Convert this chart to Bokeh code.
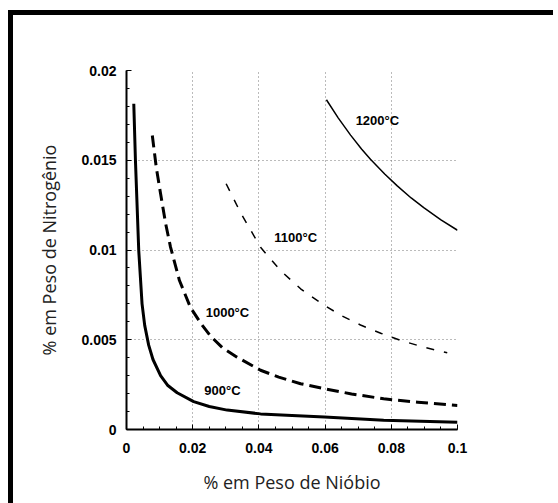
from bokeh.plotting import figure
from bokeh.models import Range1d, FixedTicker, ColumnDataSource
from bokeh.core.properties import value
from bokeh.embed import file_html
from bokeh.resources import INLINE

# Data (x = % Nb, y = % N)
nb_900 = [0.0022, 0.0027, 0.0037, 0.0047, 0.0055, 0.0067, 0.0080, 0.0103, 0.0125, 0.0153, 0.0203, 0.0250, 0.0304, 0.0405, 0.0500, 0.0598, 0.0777, 0.1]
n_900 = [0.01815, 0.0150, 0.00997, 0.00700, 0.0058, 0.0047, 0.0039, 0.00300, 0.00245, 0.00205, 0.00155, 0.00128, 0.00108, 0.00087, 0.00078, 0.00070, 0.00052, 0.0004]

nb_1000 = [0.0078, 0.0090, 0.0103, 0.0118, 0.0133, 0.0160, 0.0193, 0.0225, 0.0254, 0.0290, 0.0334, 0.0405, 0.0460, 0.0526, 0.0598, 0.0680, 0.0777, 0.0880, 0.1]
n_1000 = [0.01638, 0.01460, 0.01313, 0.01150, 0.01016, 0.00830, 0.00681, 0.00590, 0.00520, 0.00455, 0.00403, 0.00330, 0.00292, 0.00255, 0.00227, 0.00198, 0.00171, 0.00152, 0.00134]

nb_1100 = [0.0301, 0.0344, 0.0405, 0.0465, 0.0526, 0.0598, 0.0650, 0.0707, 0.0770, 0.0828, 0.0900, 0.0969]
n_1100 = [0.01369, 0.0121, 0.01015, 0.00886, 0.00784, 0.00691, 0.00634, 0.00582, 0.00535, 0.00496, 0.00458, 0.00427]

nb_1200 = [0.0604, 0.0640, 0.0677, 0.0710, 0.0737, 0.0780, 0.0818, 0.0860, 0.0898, 0.0950, 0.1]
n_1200 = [0.01837, 0.01735, 0.01640, 0.01563, 0.01506, 0.01423, 0.01357, 0.01290, 0.01236, 0.01168, 0.0111]

label_text = ["1200\u00b0C", "1100\u00b0C", "1000\u00b0C", "900\u00b0C"]
label_x = [0.0758, 0.0511, 0.0305, 0.0290]
label_y = [0.01721, 0.0107, 0.00652, 0.00217]

x_ticks = [0, 0.02, 0.04, 0.06, 0.08, 0.1]
x_tick_labels = ["0", "0.02", "0.04", "0.06", "0.08", "0.1"]
y_ticks = [0, 0.005, 0.01, 0.015, 0.02]
y_tick_labels = ["0", "0.005", "0.01", "0.015", "0.02"]
x_minor = [i * 0.005 for i in range(21)]
y_minor = [i * 0.001 for i in range(21)]

W, H = 540, 488
p = figure(width=W, height=H, output_backend="svg", toolbar_location=None,
           x_range=Range1d(0, 0.1), y_range=Range1d(0, 0.02),
           min_border_left=113, min_border_right=96, min_border_top=55, min_border_bottom=74)
# thick black frame on the top and left sides (drawn as shadows, no layout change)
p.styles = {"box-shadow": "-5px -5px 0 0 black, 0 -5px 0 0 black, -5px 0 0 0 black",
            "margin-left": "13px", "margin-top": "15px"}
p.outline_line_color = None
p.background_fill_color = "white"
p.border_fill_color = "white"

p.xaxis.ticker = FixedTicker(ticks=x_ticks, minor_ticks=x_minor)
p.yaxis.ticker = FixedTicker(ticks=y_ticks, minor_ticks=y_minor)
p.xaxis.major_label_overrides = {t: s for t, s in zip(x_ticks, x_tick_labels)}
p.yaxis.major_label_overrides = {t: s for t, s in zip(y_ticks, y_tick_labels)}

for ax in (p.xaxis[0], p.yaxis[0]):
    ax.axis_line_color = "black"
    ax.axis_line_width = 2
    ax.major_tick_in = 5
    ax.major_tick_out = 0
    ax.minor_tick_in = 3
    ax.minor_tick_out = 0
    ax.major_tick_line_color = "black"
    ax.minor_tick_line_color = "black"
    ax.major_label_text_font = "Liberation Sans"
    ax.major_label_text_font_style = "bold"
    ax.major_label_text_font_size = "14px"
    ax.major_label_text_color = "black"
    ax.axis_label_text_font = "Open Sans"
    ax.axis_label_text_font_style = "normal"
    ax.axis_label_text_font_size = "18px"
    ax.axis_label_text_color = "#222222"

p.xaxis.axis_label = "% em Peso de Nióbio"
p.yaxis.axis_label = "% em Peso de Nitrogênio"
p.xaxis.major_label_standoff = 13
p.yaxis.major_label_standoff = 10
p.xaxis.axis_label_standoff = 14
p.yaxis.axis_label_standoff = 17

p.xgrid.ticker = FixedTicker(ticks=x_ticks)
p.ygrid.ticker = FixedTicker(ticks=y_ticks)
for g in (p.xgrid[0], p.ygrid[0]):
    g.grid_line_color = "#777777"
    g.grid_line_dash = "1 3"
    g.grid_line_width = 1

p.line(nb_900, n_900, line_color="black", line_width=3, line_join="round")
p.line(nb_1000, n_1000, line_color="black", line_width=3, line_dash="12 6", line_join="round")
p.line(nb_1100, n_1100, line_color="black", line_width=1.5, line_dash="8 10", line_join="round")
p.line(nb_1200, n_1200, line_color="black", line_width=1.5, line_join="round")

src = ColumnDataSource(dict(x=label_x, y=label_y, t=label_text))
p.text(x="x", y="y", text="t", source=src, text_align="center", text_baseline="middle",
       text_font=value("Liberation Sans"), text_font_style="bold", text_font_size="13px",
       text_color="black")

open("out.html", "w").write(file_html(p, INLINE))
